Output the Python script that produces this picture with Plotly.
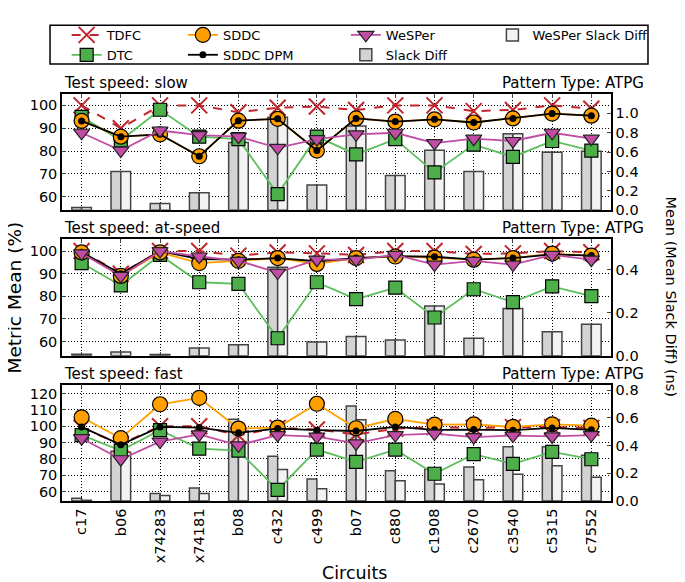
import plotly.graph_objects as go
from plotly.subplots import make_subplots

circuits = ["c17", "b06", "x74283", "x74181", "b08", "c432", "c499",
            "b07", "c880", "c1908", "c2670", "c3540", "c5315", "c7552"]

# --- slow
tdfc_slow = [100, 90, 100, 100, 97, 99, 99.5, 98, 100, 100, 97.5, 98, 100, 98.5]
dtc_slow = [95, 84.7, 98.1, 86.3, 85.2, 61.1, 86.3, 78.5, 85.2, 70.6, 82.8, 77.4, 84.4, 80.2]
sddc_slow = [93.2, 86.3, 87.3, 77.7, 93.3, 94.1, 80.2, 94.3, 92.9, 93.9, 92.5, 94.3, 96.4, 95.5]
dpm_slow = [93.2, 86.3, 87.3, 77.7, 93.3, 94.1, 80.2, 94.3, 92.9, 93.9, 92.5, 94.3, 96.4, 95.5]
wesper_slow = [88, 80.2, 89, 87, 86.3, 81.4, 85.2, 87.3, 88, 83.5, 85.4, 84.4, 88, 85.4]
slack_slow = [0.03, 0.40, 0.07, 0.18, 0.70, 0.96, 0.26, 0.87, 0.36, 0.62, 0.40, 0.79, 0.60, 0.61]
wslack_slow = [0.03, 0.40, 0.07, 0.18, 0.70, 0.96, 0.26, 0.87, 0.36, 0.62, 0.40, 0.79, 0.60, 0.61]

# --- at-speed
tdfc_at = [100, 90, 100, 100, 98, 99.4, 99, 98.3, 100, 100, 98.7, 99, 100, 99.5]
dtc_at = [94.7, 84.8, 98.3, 86.2, 85.5, 61.4, 86.2, 78.7, 83.8, 70.6, 83.1, 77.4, 84.4, 80.1]
sddc_at = [99.4, 89, 99.4, 94.7, 95.7, 96.9, 94.3, 96.9, 97.6, 97.1, 96.2, 96.9, 98.9, 98]
dpm_at = [99.5, 90, 100, 96.5, 96.2, 96.9, 95.5, 96.9, 97.8, 97.5, 96.2, 96.9, 98.5, 98]
wesper_at = [99, 89, 100, 97.6, 95.7, 90.5, 96.2, 96.2, 98.3, 94, 95.7, 94, 98.3, 96.2]
slack_at = [0.006, 0.017, 0.005, 0.036, 0.051, 0.41, 0.063, 0.089, 0.073, 0.231, 0.081, 0.219, 0.111, 0.146]
wslack_at = [0.006, 0.017, 0.005, 0.036, 0.051, 0.41, 0.063, 0.089, 0.073, 0.231, 0.081, 0.219, 0.111, 0.146]

# --- fast
tdfc_fast = [99, 89, 100, 100, 94.5, 99, 98, 95, 98.5, 99.5, 99, 99.5, 99.5, 99]
dtc_fast = [94.6, 85.1, 97.6, 86.3, 85.1, 61, 85.7, 78.2, 85.7, 70.9, 82.9, 77, 84.3, 79.8]
sddc_fast = [105.5, 92.7, 113.5, 117.4, 98.6, 99.2, 113.8, 98.8, 104.5, 101, 101.2, 99.6, 101.2, 100.4]
dpm_fast = [99.6, 88.7, 99.6, 99.2, 96, 98.6, 97.6, 97.1, 99.6, 97.8, 98, 97.6, 99, 97.8]
wesper_fast = [92.7, 79.8, 90.6, 95, 88.3, 94.6, 93.6, 89.5, 94.6, 95.5, 93.3, 94.3, 93.8, 94.6]
slack_fast = [0.02, 0.36, 0.054, 0.094, 0.59, 0.324, 0.158, 0.686, 0.218, 0.23, 0.246, 0.392, 0.392, 0.33]
wslack_fast = [0.006, 0.352, 0.04, 0.054, 0.505, 0.228, 0.089, 0.587, 0.146, 0.122, 0.153, 0.193, 0.255, 0.172]

speeds = ["slow", "at-speed", "fast"]
panels = [
    (tdfc_slow, dtc_slow, sddc_slow, dpm_slow, wesper_slow, slack_slow, wslack_slow),
    (tdfc_at, dtc_at, sddc_at, dpm_at, wesper_at, slack_at, wslack_at),
    (tdfc_fast, dtc_fast, sddc_fast, dpm_fast, wesper_fast, slack_fast, wslack_fast),
]
left_ranges = [[54, 105], [53.7, 105.2], [54.2, 125.5]]
right_ranges = [[0, 1.2], [0, 0.54], [0, 0.84]]
left_ticks = [[60, 70, 80, 90, 100], [60, 70, 80, 90, 100], [60, 70, 80, 90, 100, 110, 120]]
right_ticks = [[0, 0.2, 0.4, 0.6, 0.8, 1.0], [0, 0.2, 0.4], [0, 0.2, 0.4, 0.6, 0.8]]

FONT = "DejaVu Sans"
RED = "#c0262d"
GREEN = "#4daf4a"
GREEN_L = "#5cbf5c"
ORANGE = "#ffa000"
MAG = "#c04ca4"
DOT = "1px,2px"

fig = make_subplots(rows=3, cols=1, shared_xaxes=True, vertical_spacing=0.0713,
                    specs=[[{"secondary_y": True}]] * 3)

for i, (tdfc, dtc, sddc, dpm, wes, sl, wsl) in enumerate(panels):
    r = i + 1
    show = (i == 0)
    # bars on the primary axis (drawn under the lines)
    fig.add_trace(go.Bar(x=circuits, y=sl, name="Slack Diff", legend="legend3", legendrank=2,
                         marker=dict(color="#d3d3d3", line=dict(color="#444444", width=1.5)),
                         showlegend=show), row=r, col=1, secondary_y=False)
    fig.add_trace(go.Bar(x=circuits, y=wsl, name="WeSPer Slack Diff", legend="legend4", legendrank=1,
                         marker=dict(color="#f3f3f3", line=dict(color="#444444", width=1.5)),
                         showlegend=show), row=r, col=1, secondary_y=False)
    fig.add_trace(go.Scatter(x=circuits, y=tdfc, name="TDFC", legend="legend", legendrank=1,
                             mode="lines+markers",
                             line=dict(color=RED, width=2, dash="dash"),
                             marker=dict(symbol="x-thin-open", size=16, line=dict(color=RED, width=2)),
                             showlegend=show), row=r, col=1, secondary_y=True)
    fig.add_trace(go.Scatter(x=circuits, y=dtc, name="DTC", legend="legend", legendrank=2,
                             mode="lines+markers",
                             line=dict(color=GREEN_L, width=1.8),
                             marker=dict(symbol="square", size=13, color=GREEN,
                                         line=dict(color="black", width=1.2)),
                             showlegend=show), row=r, col=1, secondary_y=True)
    fig.add_trace(go.Scatter(x=circuits, y=sddc, name="SDDC", legend="legend2", legendrank=1,
                             mode="lines+markers",
                             line=dict(color=ORANGE, width=1.8),
                             marker=dict(symbol="circle", size=15, color=ORANGE,
                                         line=dict(color="black", width=1.2)),
                             showlegend=show), row=r, col=1, secondary_y=True)
    fig.add_trace(go.Scatter(x=circuits, y=dpm, name="SDDC DPM", legend="legend2", legendrank=2,
                             mode="lines+markers",
                             line=dict(color="black", width=1.8),
                             marker=dict(symbol="circle", size=7, color="black"),
                             showlegend=show), row=r, col=1, secondary_y=True)
    fig.add_trace(go.Scatter(x=circuits, y=wes, name="WeSPer", legend="legend3", legendrank=1,
                             mode="lines+markers",
                             line=dict(color=MAG, width=1.8),
                             marker=dict(symbol="triangle-down", size=14, color=MAG,
                                         line=dict(color="#222222", width=1.2)),
                             showlegend=show), row=r, col=1, secondary_y=True)

    fig.update_yaxes(row=r, col=1, secondary_y=False, side="right", range=right_ranges[i],
                     tickvals=right_ticks[i], tickformat=".1f", showgrid=False,
                     ticks="inside", ticklen=4, showline=True, linecolor="black", linewidth=1.5,
                     zeroline=False)
    fig.update_yaxes(row=r, col=1, secondary_y=True, side="left", range=left_ranges[i],
                     tickvals=left_ticks[i], showgrid=True, gridcolor="black", griddash=DOT,
                     gridwidth=1, ticks="inside", ticklen=4, showline=True, linecolor="black",
                     linewidth=1.5, zeroline=False)

fig.update_xaxes(range=[-0.5, 13.5], showgrid=True, gridcolor="black", griddash=DOT, gridwidth=1,
                 showline=True, mirror="ticks", linecolor="black", linewidth=1.5,
                 ticks="inside", ticklen=4, tickangle=-90)

# panel titles
for i, s in enumerate(speeds):
    ya = fig.layout["yaxis" + ("" if i == 0 else str(2 * i + 1))]
    top = ya.domain[1]
    fig.add_annotation(text="Test speed: " + s, x=0, y=top, xref="paper", yref="paper",
                       xanchor="left", yanchor="bottom", showarrow=False, font=dict(size=15))
    fig.add_annotation(text="Pattern Type: ATPG", x=1, y=top, xref="paper", yref="paper",
                       xanchor="right", yanchor="bottom", showarrow=False, font=dict(size=15))

fig.add_annotation(text="Metric Mean (%)", x=-0.0805, y=0.5, xref="paper", yref="paper",
                   xanchor="center", yanchor="middle",
                   textangle=-90, showarrow=False, font=dict(size=18.5))
fig.add_annotation(text="Mean (Mean Slack Diff) (ns)", x=1.0445, y=0.5, xref="paper", yref="paper",
                   xanchor="center", yanchor="middle",
                   textangle=90, showarrow=False, font=dict(size=14.5))
fig.add_annotation(text="Circuits", x=0.5, y=-0.1758, xref="paper", yref="paper",
                   xanchor="center", yanchor="middle", showarrow=False, font=dict(size=17.5))

# legend frame
fig.add_shape(type="rect", xref="paper", yref="paper", x0=-0.0205, x1=1.0034, y0=1.0736, y1=1.169,
              line=dict(color="black", width=1.5), fillcolor="white", layer="below")

leg = dict(orientation="v", yanchor="top", y=1.182, xanchor="left", bgcolor="rgba(0,0,0,0)",
           font=dict(size=13), tracegroupgap=0, itemwidth=30)
fig.update_layout(
    width=685, height=582,
    margin=dict(l=54, r=47, t=72, b=89),
    paper_bgcolor="white", plot_bgcolor="white",
    font=dict(family=FONT, size=14.5, color="black"),
    barmode="group", bargap=0.5, bargroupgap=0,
    legend=dict(leg, x=0.008),
    legend2=dict(leg, x=0.207),
    legend3=dict(leg, x=0.486),
    legend4=dict(leg, x=0.737),
)

fig.write_html("out.html")
